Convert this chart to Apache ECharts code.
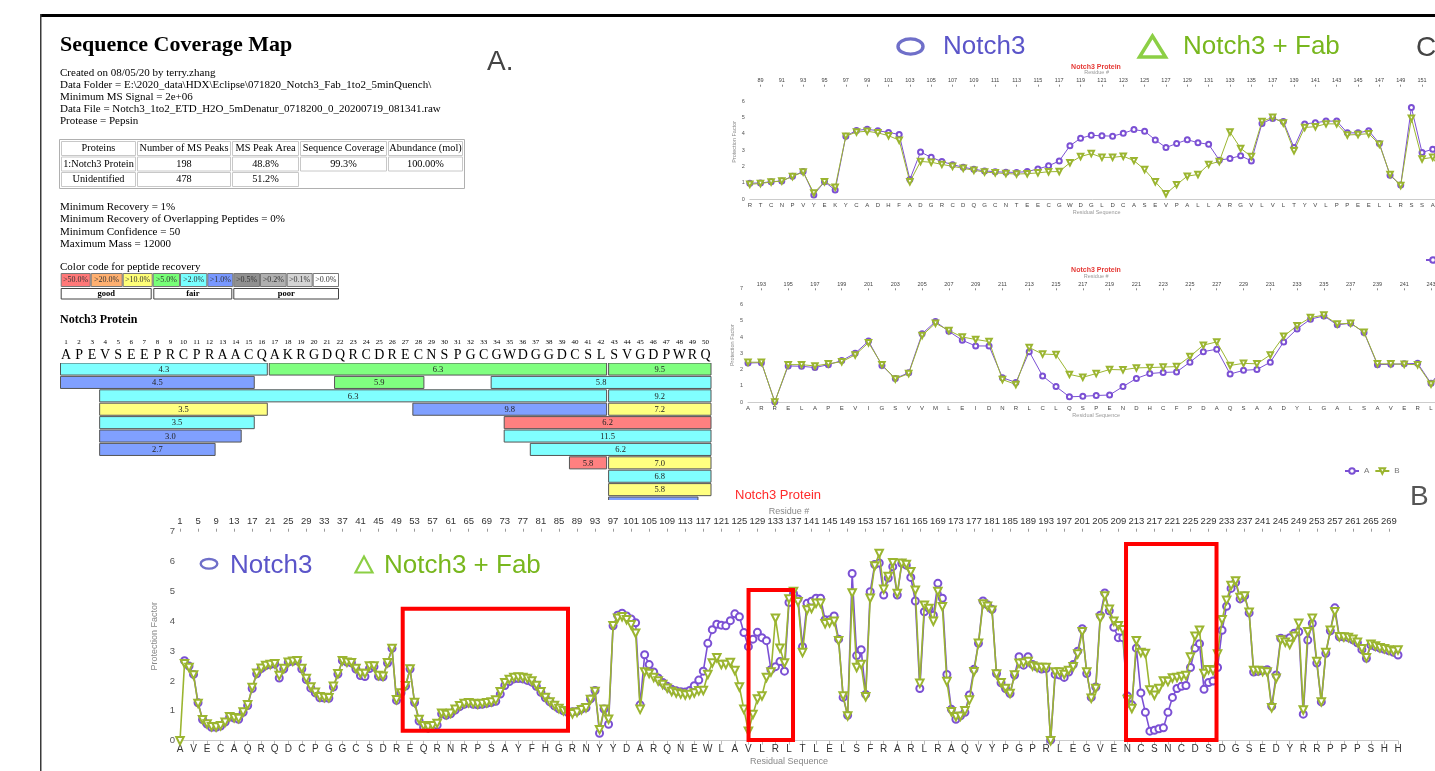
<!DOCTYPE html>
<html><head><meta charset="utf-8">
<script src="https://cdn.jsdelivr.net/npm/echarts/dist/echarts.min.js"></script>
<style>html,body{margin:0;padding:0;background:#fff;overflow:hidden}#c{width:1435px;height:771px}</style>
</head><body><div id="c"></div>
<script>
// ---------------- DATA ----------------
// bottom-axis sequence letters (every 3rd residue, 1..271)
var seqEvery3 = ['A','V','E','C','A','Q','R','Q','D','C','P','G','G','C','S','D','R','E','Q','R','N','R','P','S','A','Y','F','H','G','R','N','Y','Y','D','A','R','Q','N','E','W','L','A','V','L','R','L','T','L','E','L','S','F','R','A','R','L','R','A','Q','V','Y','P','G','P','R','L','E','G','V','E','N','C','S','N','C','D','S','D','G','S','E','D','Y','R','R','P','P','P','S','H','H'];
// protection factor, residues 1..271
var notch3 = [null,2.68,2.5,2.22,1.27,0.71,0.56,0.45,0.45,0.49,
 0.62,0.79,0.76,0.72,0.95,1.18,1.75,2.24,2.42,2.52,
 2.55,2.57,2.1,2.4,2.63,2.66,2.68,2.4,2.05,1.76,
 1.6,1.44,1.43,1.42,1.8,2.23,2.68,2.63,2.61,2.4,
 2.18,2.15,2.42,2.48,2.16,2.14,2.6,3.09,1.35,1.6,
 1.83,2.4,1.28,0.66,0.45,0.42,0.46,0.52,0.9,0.85,
 0.9,1.03,1.14,1.22,1.26,1.22,1.2,1.22,1.25,1.28,
 1.32,1.56,1.85,1.98,2.07,2.08,2.07,2.02,1.96,1.82,
 1.62,1.44,1.3,1.17,1.07,1.0,0.94,0.97,0.98,1.06,
 1.1,1.4,1.68,0.25,1.06,0.55,3.85,4.2,4.27,4.18,
 4.08,3.95,1.2,2.88,2.55,2.3,2.1,1.95,1.82,1.72,
 1.67,1.64,1.63,1.68,1.84,2.03,2.33,3.26,3.72,3.9,
 3.87,3.85,4.02,4.25,4.15,3.62,3.15,3.4,3.63,3.45,
 3.35,2.38,2.48,2.65,2.33,4.63,4.93,4.75,3.15,4.6,
 4.67,4.77,4.77,4.05,4.05,4.18,3.4,1.45,0.85,5.6,
 2.85,3.05,1.55,4.99,5.9,5.95,4.88,5.45,5.83,4.88,
 5.94,5.88,5.47,4.68,1.75,4.32,4.43,4.2,5.27,4.77,
 2.22,1.05,0.72,0.83,0.95,1.53,2.39,3.26,4.68,4.55,
 4.4,2.25,1.94,1.75,1.58,2.2,2.81,2.53,2.81,2.55,
 2.47,2.4,2.42,0.02,2.22,2.2,2.12,2.3,2.55,3.0,
 3.75,2.25,1.45,1.8,4.2,4.95,4.35,3.8,3.45,3.45,
 1.5,1.2,3.1,1.6,0.95,0.32,0.35,0.4,0.43,0.95,
 1.45,1.75,1.82,1.85,2.45,3.1,3.25,1.72,1.95,2.0,
 2.45,3.7,4.5,5.1,5.3,4.75,4.85,4.28,2.3,2.32,
 2.35,2.38,1.15,2.2,3.43,3.4,3.45,3.6,3.65,0.89,
 3.37,3.93,2.6,1.3,2.93,3.68,4.45,3.48,3.47,3.45,
 3.38,3.28,3.05,2.76,3.2,3.15,3.1,3.06,3.01,2.96,
 2.87];
var notch3Fab = [0.0,2.58,2.45,2.2,1.25,0.7,0.56,0.47,0.46,0.5,
 0.62,0.8,0.77,0.74,0.96,1.2,1.78,2.26,2.43,2.52,
 2.55,2.58,2.18,2.42,2.63,2.66,2.68,2.42,2.08,1.8,
 1.62,1.47,1.45,1.44,1.82,2.24,2.68,2.63,2.61,2.42,
 2.25,2.25,2.5,2.5,2.18,2.16,2.61,3.09,1.37,1.6,
 1.84,2.4,1.28,0.71,0.5,0.46,0.5,0.58,0.92,0.88,
 0.92,1.05,1.17,1.25,1.27,1.25,1.23,1.25,1.27,1.3,
 1.36,1.64,1.94,2.05,2.12,2.13,2.12,2.08,2.0,1.85,
 1.64,1.45,1.3,1.18,1.08,1.0,0.94,0.9,0.95,1.04,
 1.1,1.38,1.65,0.37,1.05,0.72,3.85,4.1,4.15,4.05,
 3.88,3.6,1.05,2.3,2.25,2.12,2.0,1.88,1.76,1.65,
 1.6,1.56,1.53,1.55,1.6,1.67,1.68,2.22,2.6,2.78,
 2.55,2.55,2.62,2.35,1.8,1.05,0.32,0.88,1.4,1.5,
 2.12,2.3,4.1,3.1,2.6,4.75,5.0,4.65,2.95,4.38,
 4.43,4.6,4.6,3.92,3.95,4.0,3.35,1.5,0.83,4.95,
 2.45,2.55,1.47,4.77,5.85,6.27,5.07,5.5,5.96,4.93,
 5.94,5.9,5.66,5.04,1.92,4.54,4.43,4.0,5.0,4.49,
 1.98,0.97,0.8,0.82,1.0,1.36,2.31,3.26,4.58,4.5,
 4.37,2.23,1.94,1.75,1.58,2.2,2.59,2.6,2.65,2.5,
 2.45,2.45,2.45,0.0,2.3,2.3,2.22,2.35,2.48,2.9,
 3.65,2.3,1.42,1.75,4.1,4.85,4.4,4.0,3.85,3.72,
 1.38,1.08,3.35,2.95,2.92,1.7,1.52,1.75,2.0,1.98,
 2.1,2.12,2.15,2.18,2.8,3.5,3.7,2.25,2.38,2.35,
 2.9,4.05,4.7,5.2,5.35,4.8,4.85,4.3,2.35,2.35,
 2.32,2.3,1.1,2.09,3.37,3.3,3.22,3.5,3.93,1.03,
 3.65,4.1,2.65,1.3,2.95,3.7,4.32,3.48,3.47,3.46,
 3.4,3.3,3.08,2.78,3.23,3.17,3.11,3.08,3.04,3.0,
 3.04];
// zoomed charts: sequences
var c1First = 88, c1Seq = ['R','T','C','N','P','V','Y','E','K','Y','C','A','D','H','F','A','D','G','R','C','D','Q','G','C','N','T','E','E','C','G','W','D','G','L','D','C','A','S','E','V','P','A','L','L','A','R','G','V','L','V','L','T','Y','V','L','P','P','E','E','L','L','R','S','S','A',''];
var c2First = 192, c2Seq = ['A','R','R','E','L','A','P','E','V','I','G','S','V','V','M','L','E','I','D','N','R','L','C','L','Q','S','P','E','N','D','H','C','F','P','D','A','Q','S','A','A','D','Y','L','G','A','L','S','A','V','E','R','L','D'];
// coverage map
var covSeq = ['A','P','E','V','S','E','E','P','R','C','P','R','A','A','C','Q','A','K','R','G','D','Q','R','C','D','R','E','C','N','S','P','G','C','G','W','D','G','G','D','C','S','L','S','V','G','D','P','W','R','Q'];
var covStart = [1,17,43, 1,22,34, 4,43, 4,28,43, 4,35, 4,35, 4,37, 40,43, 43, 43, 43];
var covEnd   = [16,42,50, 15,28,50, 42,50, 16,42,50, 15,50, 14,50, 12,50, 42,50, 50, 50, 49];
var covRow   = [0,0,0, 1,1,1, 2,2, 3,3,3, 4,4, 5,5, 6,6, 7,7, 8, 9, 10];
var covValue = ['4.3','6.3','9.5','4.5','5.9','5.8','6.3','9.2','3.5','9.8','7.2','3.5','6.2','3.0','11.5','2.7','6.2','5.8','7.0','6.8','5.8',''];
var covClass = ['c','g','g','b','g','c','c','c','y','b','y','c','r','b','c','b','c','r','y','c','y','b'];
var recLabels = ['>50.0%','>20.0%','>10.0%','>5.0%','>2.0%','>1.0%','>0.5%','>0.2%','>0.1%','>0.0%'];
var tableHeader = ['Proteins','Number of MS Peaks','MS Peak Area','Sequence Coverage','Abundance (mol)'];
var tableRow1 = ['1:Notch3 Protein','198','48.8%','99.3%','100.00%'];
var tableRow2 = ['Unidentified','478','51.2%'];
var infoLines = ['Created on 08/05/20 by terry.zhang','Data Folder = E:\\2020_data\\HDX\\Eclipse\\071820_Notch3_Fab_1to2_5minQuench\\','Minimum MS Signal = 2e+06','Data File = Notch3_1to2_ETD_H2O_5mDenatur_0718200_0_20200719_081341.raw','Protease = Pepsin'];
var paramLines = ['Minimum Recovery = 1%','Minimum Recovery of Overlapping Peptides = 0%','Minimum Confidence = 50','Maximum Mass = 12000'];
// highlight boxes [resFrom, resTo, pfLow, pfHigh]
var redBoxes = [[50.37,87.01,0.33,4.42],[127.03,136.89,0.02,5.05],[210.71,230.77,0.02,6.59]];

// ---------------- STYLE ----------------
var PURPLE='#7b50d4', GREEN='#9bb530';
var covColors = {r:'#ff8080', y:'#ffff80', g:'#80ff80', c:'#80ffff', b:'#80a0ff'};
var recColors = ['#ff7878','#ffb070','#ffff78','#78ff78','#78ffff','#7898ff','#909090','#b0b0b0','#d4d4d4','#ffffff'];
var SERIF='Liberation Serif', SANS='Liberation Sans';

function range(a,b){var r=[];for(var i=a;i<=b;i++)r.push(String(i));return r;}
var resAll = range(1,271), res1 = range(c1First,c1First+c1Seq.length-1), res2 = range(c2First,c2First+c2Seq.length-1), resCov = range(1,50);

var chart = echarts.init(document.getElementById('c'), null, {renderer:'canvas'});

function gridDef(l,t,w,h){return {left:l,top:t,width:w,height:h,containLabel:false,outerBoundsMode:'none'};}

function smallX(grid, data, pos, extra){
  return Object.assign({gridIndex:grid,type:'category',data:data,boundaryGap:false,position:pos,
    axisLine:{show:pos==='bottom',lineStyle:{color:'#ccc'}},axisTick:{show:false},splitLine:{show:false}}, extra);
}

var xAxes = [
  {gridIndex:0,type:'category',data:covSeq,position:'top',axisLine:{show:false},axisTick:{show:false},
   axisLabel:{interval:0,fontSize:14,fontFamily:SERIF,color:'#000',margin:1}},
  {gridIndex:0,type:'category',data:resCov,position:'top',offset:15,axisLine:{show:false},axisTick:{show:false},
   axisLabel:{interval:0,fontSize:7,fontFamily:SERIF,color:'#000',margin:2}},
  smallX(1,c1Seq,'bottom',{axisLabel:{interval:0,fontSize:6,color:'#444',fontFamily:SANS,margin:3},
    name:'Residual Sequence',nameLocation:'middle',nameGap:10,nameTextStyle:{fontSize:5.5,color:'#999',fontFamily:SANS}}),
  smallX(1,res1,'top',{axisTick:{show:true,inside:true,length:2,interval:function(i,v){return (+v)%2===1;},lineStyle:{color:'#888'}},
    axisLabel:{interval:function(i,v){return (+v)%2===1;},fontSize:5.5,color:'#444',fontFamily:SANS,margin:1},
    name:'Residue #',nameLocation:'middle',nameGap:9,nameTextStyle:{fontSize:5.5,color:'#999',fontFamily:SANS}}),
  smallX(2,c2Seq,'bottom',{axisLabel:{interval:0,fontSize:6,color:'#444',fontFamily:SANS,margin:3},
    name:'Residual Sequence',nameLocation:'middle',nameGap:10,nameTextStyle:{fontSize:5.5,color:'#999',fontFamily:SANS}}),
  smallX(2,res2,'top',{axisTick:{show:true,inside:true,length:2,interval:function(i,v){return (+v)%2===1;},lineStyle:{color:'#888'}},
    axisLabel:{interval:function(i,v){return (+v)%2===1;},fontSize:5.5,color:'#444',fontFamily:SANS,margin:1},
    name:'Residue #',nameLocation:'middle',nameGap:9,nameTextStyle:{fontSize:5.5,color:'#999',fontFamily:SANS}}),
  {gridIndex:3,type:'category',data:resAll,boundaryGap:false,position:'bottom',
   axisLine:{show:true,lineStyle:{color:'#ccc',width:1}},
   axisTick:{show:true,interval:2,length:4,lineStyle:{color:'#bbb'}},
   axisLabel:{interval:2,fontSize:10,color:'#333',fontFamily:SANS,margin:4,formatter:function(v,idx){return seqEvery3[idx/3]||'';}},
   name:'Residual Sequence',nameLocation:'middle',nameGap:16,nameTextStyle:{fontSize:9,color:'#888',fontFamily:SANS}},
  {gridIndex:3,type:'category',data:resAll,boundaryGap:false,position:'top',
   axisLine:{show:false},axisTick:{show:true,interval:3,length:3,lineStyle:{color:'#999'}},
   axisLabel:{interval:3,fontSize:9.5,color:'#333',fontFamily:SANS,margin:5},
   name:'Residue #',nameLocation:'middle',nameGap:15,nameTextStyle:{fontSize:9,color:'#888',fontFamily:SANS}}
];

function pfY(grid, fs, gap, hide7, nameFs){
  return {gridIndex:grid,type:'value',min:0,max:7,interval:1,axisLine:{show:false},axisTick:{show:false},splitLine:{show:false},
    axisLabel:{fontSize:fs,color:'#555',fontFamily:SANS,margin:gap,formatter:function(v){return (hide7&&v===7)?'':String(v);}},
    name:'Protection Factor',nameLocation:'middle',nameGap:gap+fs+2,nameTextStyle:{fontSize:nameFs,color:'#888',fontFamily:SANS}};
}
var yAxes = [
  {gridIndex:0,type:'value',min:0,max:137/13.4,inverse:true,show:false},
  pfY(1,5.5,5,true,5.5),
  pfY(2,5.5,5,false,5.5),
  pfY(3,9.5,5,false,9)
];

var covData = covStart.map(function(s,i){return [s-1, covEnd[i]-1, covRow[i], i];});

function lineS(name, xi, yi, data, isA, size, lw){
  return {name:name,type:'line',xAxisIndex:xi,yAxisIndex:yi,data:data,showAllSymbol:true,
    symbol:isA?'emptyCircle':'emptyTriangle',symbolRotate:isA?0:180,symbolSize:size,
    itemStyle:{color:isA?PURPLE:GREEN,borderWidth:lw<1.2?1:1.5},lineStyle:{color:isA?PURPLE:GREEN,width:lw},
    z:isA?3:4,animation:false};
}

var series = [
  {type:'custom',xAxisIndex:0,yAxisIndex:0,data:covData,clip:true,encode:{x:[0,1],y:2},animation:false,
   renderItem:function(params, api){
     var i=api.value(3), row=api.value(2);
     var p1=api.coord([api.value(0),row]), p2=api.coord([api.value(1),row]);
     var bw=api.size([1,0])[0], rh=api.size([0,1])[1];
     var x1=p1[0]-bw/2+1, x2=p2[0]+bw/2-1, y1=p1[1], h=rh*0.9;
     var ch=[{type:'rect',shape:{x:x1,y:y1,width:x2-x1,height:h},style:{fill:covColors[covClass[i]],stroke:'#555',lineWidth:1}}];
     if(covValue[i]) ch.push({type:'text',style:{text:covValue[i],x:(x1+x2)/2,y:y1+h/2+0.5,align:'center',verticalAlign:'middle',fontSize:8.5,fontFamily:SERIF,fill:'#222'}});
     return {type:'group',children:ch};
   }},
  lineS('A',2,1,notch3.slice(c1First-1,c1First-1+c1Seq.length),true,5,1),
  lineS('B',2,1,notch3Fab.slice(c1First-1,c1First-1+c1Seq.length),false,5.5,1),
  lineS('A',4,2,notch3.slice(c2First-1,c2First-1+c2Seq.length),true,5,1),
  lineS('B',4,2,notch3Fab.slice(c2First-1,c2First-1+c2Seq.length),false,5.5,1),
  lineS('Notch3',6,3,notch3,true,7,1.6),
  lineS('Notch3 + Fab',6,3,notch3Fab,false,7.5,1.6)
];

// --------------- graphic (text panels) ---------------
var G=[];
function T(text,x,y,o){var s={text:text,x:x,y:y,fill:'#000',fontSize:11,fontFamily:SERIF,align:'left',verticalAlign:'middle'};for(var k in o)s[k]=o[k];G.push({type:'text',style:s,z:20});}
function R(x,y,w,h,fill,stroke,lw){G.push({type:'rect',shape:{x:x,y:y,width:w,height:h},style:{fill:fill,stroke:stroke||null,lineWidth:lw||1},z:15});}
R(40,14,1395,3,'#000');
R(40,14,1.5,757,'#3a3a3a');
T('Sequence Coverage Map',60,45,{fontSize:22,fontWeight:'bold'});
infoLines.forEach(function(t,i){T(t,60,73+i*12.1);});
R(59.5,139.5,405,49,'none','#b0b0b0',1);
var colE=[60.5,136.5,231.5,299.5,387.5,463.5], rowE=[141,156.5,172,187.5];
function cellRow(arr,r){arr.forEach(function(t,c){R(colE[c]+1,rowE[r]+0.5,colE[c+1]-colE[c]-2,rowE[r+1]-rowE[r]-1.5,'none','#c8c8c8',1);T(t,(colE[c]+colE[c+1])/2,(rowE[r]+rowE[r+1])/2,{align:'center',fontSize:10.3});});}
cellRow(tableHeader,0);cellRow(tableRow1,1);cellRow(tableRow2,2);
paramLines.forEach(function(t,i){T(t,60,207.5+i*12.1);});
T('Color code for peptide recovery',60,267);
var recE=[60.7,90.7,122.7,152.7,180,207.3,233.3,260,286.7,312.7,339];
recLabels.forEach(function(t,i){R(recE[i]+0.5,273.5,recE[i+1]-recE[i]-1,13,recColors[i],'#777',1);T(t,(recE[i]+recE[i+1])/2,280.2,{align:'center',fontSize:8,fill:'#333'});});
[['good',60.7,151.7],['fair',153.3,232.3],['poor',233.3,339]].forEach(function(g){R(g[1]+0.5,288.5,g[2]-g[1]-1,10.5,'#fff','#444',1);T(g[0],(g[1]+g[2])/2,294,{align:'center',fontSize:8.5,fontWeight:'bold'});});
T('Notch3 Protein',60,320,{fontSize:12,fontWeight:'bold'});
T('A.',487,62,{fontSize:28,fontFamily:SANS,fill:'#444'});
T('B',1410,497,{fontSize:28,fontFamily:SANS,fill:'#555'});
T('C',1416,48,{fontSize:28,fontFamily:SANS,fill:'#444'});
G.push({type:'ellipse',shape:{cx:910.5,cy:46.5,rx:12.5,ry:7.6},style:{fill:'none',stroke:'#6f6fc9',lineWidth:3.4},z:20});
T('Notch3',943,46.5,{fontSize:26,fontFamily:SANS,fill:'#5b55c9'});
G.push({type:'polygon',shape:{points:[[1152.5,36],[1139.5,57],[1165.5,57]]},style:{fill:'none',stroke:'#8ccf45',lineWidth:3.5,lineJoin:'miter'},z:20});
T('Notch3 + Fab',1183,46.5,{fontSize:26,fontFamily:SANS,fill:'#78b71e'});
G.push({type:'ellipse',shape:{cx:209,cy:563.8,rx:8.3,ry:4.8},style:{fill:'none',stroke:'#6f6fc9',lineWidth:2.4},z:20});
T('Notch3',230,566,{fontSize:26,fontFamily:SANS,fill:'#5b55c9'});
G.push({type:'polygon',shape:{points:[[364,556.5],[355.5,572.5],[372.5,572.5]]},style:{fill:'none',stroke:'#8ccf45',lineWidth:2.2},z:20});
T('Notch3 + Fab',384,566,{fontSize:26,fontFamily:SANS,fill:'#78b71e'});
T('Notch3 Protein',1096,67,{fontSize:7,fontFamily:SANS,fill:'#e53935',align:'center',fontWeight:'bold'});
T('Notch3 Protein',1096,270.5,{fontSize:7,fontFamily:SANS,fill:'#e53935',align:'center',fontWeight:'bold'});
T('Notch3 Protein',778,495,{fontSize:13,fontFamily:SANS,fill:'#ff2a2a',align:'center'});

var option = {
  animation:false,
  backgroundColor:'#fff',
  grid:[gridDef(59.5,363,652.5,137), gridDef(749.8,84.7,693.6,114.3), gridDef(748,288.3,696.4,113.7), gridDef(180,531.7,1218,209)],
  xAxis:xAxes, yAxis:yAxes, series:series,
  legend:[
    {data:['A','B'],left:1339,top:462,itemWidth:14,itemHeight:7,itemGap:5,textStyle:{fontSize:8,color:'#777',fontFamily:SANS},selectedMode:false},
    {data:['A'],left:1420,top:251,itemWidth:14,itemHeight:7,itemGap:5,textStyle:{fontSize:8,color:'#777',fontFamily:SANS},selectedMode:false}
  ],
  graphic:G
};
chart.setOption(option);

var px0 = chart.convertToPixel({xAxisIndex:6}, 0), px1 = chart.convertToPixel({xAxisIndex:6}, 270);
function rx(res){return px0 + (px1-px0)*(res-1)/270;}
function ry(v){return chart.convertToPixel({yAxisIndex:3}, v);}
var boxG = redBoxes.map(function(b,i){
  var x1=rx(b[0]), x2=rx(b[1]), y1=ry(b[3]), y2=ry(b[2]);
  return {type:'rect',id:'rb'+i,shape:{x:x1,y:y1,width:x2-x1,height:y2-y1},style:{fill:'none',stroke:'#ff0000',lineWidth:4},z:50};
});
chart.setOption({graphic:G.concat(boxG)});
</script></body></html>
